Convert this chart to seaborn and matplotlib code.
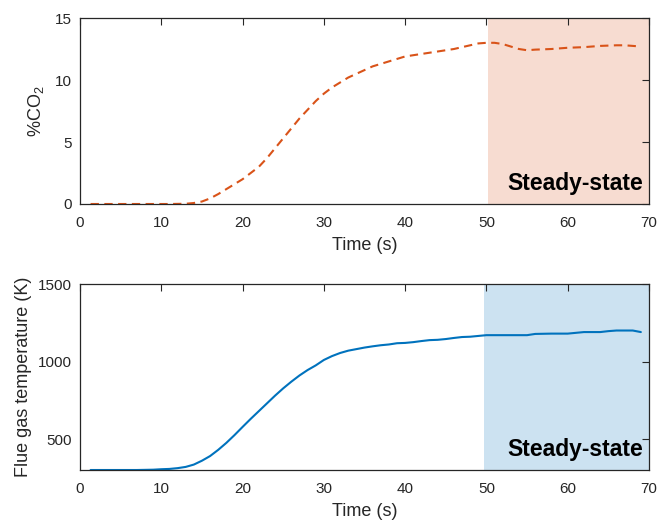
import matplotlib
matplotlib.use("Agg")
import matplotlib.pyplot as plt
import seaborn as sns
import pandas as pd

# CO2 concentration during start-up (%)
time_co2 = [1.3, 3, 5, 7, 9, 11, 13, 14, 15, 16, 17, 18, 19, 20, 21, 22, 23, 24, 25,
            26, 27, 28, 29, 30, 31, 32, 33, 34, 35, 36, 37, 38, 39, 40, 42, 44, 46,
            48, 49, 50, 51, 52, 53, 54, 55, 56, 58, 60, 62, 64, 66, 67, 68, 69]
co2 = [0, 0, 0, 0, 0, 0, 0.02, 0.08, 0.2, 0.45, 0.8, 1.2, 1.6, 2.0, 2.5, 3.0, 3.7, 4.5, 5.3,
       6.1, 6.9, 7.6, 8.3, 8.9, 9.4, 9.8, 10.2, 10.5, 10.8, 11.1, 11.3, 11.5, 11.7, 11.9, 12.1, 12.3, 12.5,
       12.8, 12.95, 13.0, 13.0, 12.9, 12.7, 12.5, 12.4, 12.45, 12.5, 12.6, 12.65, 12.75, 12.8, 12.8, 12.75, 12.7]

# Flue gas temperature (K)
time_temp = [1.3, 3, 5, 7, 9, 10, 11, 12, 13, 14, 15, 16, 17, 18, 19, 20, 21, 22, 23, 24,
             25, 26, 27, 28, 29, 30, 31, 32, 33, 34, 35, 36, 37, 38, 39, 40, 41, 42, 43, 44,
             45, 46, 47, 48, 49, 50, 52, 54, 55, 56, 58, 60, 61, 62, 64, 65, 66, 67, 68, 69]
temp = [300, 300, 300, 300, 302, 305, 307, 312, 320, 335, 360, 390, 430, 475, 525, 578, 630, 680, 730, 780,
        827, 870, 910, 945, 975, 1010, 1035, 1055, 1070, 1080, 1090, 1098, 1105, 1110, 1118, 1120, 1125, 1132, 1138, 1140,
        1145, 1152, 1158, 1160, 1165, 1170, 1170, 1170, 1170, 1178, 1180, 1180, 1185, 1190, 1190, 1196, 1200, 1200, 1200, 1190]

steady_start_co2 = 50.2
steady_start_temp = 49.7
x_ticks = [0, 10, 20, 30, 40, 50, 60, 70]

orange = "#D95319"
blue = "#0072BD"

sns.set_style("white")
plt.rcParams["font.family"] = ["Liberation Sans", "DejaVu Sans"]
plt.rcParams["mathtext.fontset"] = "custom"
plt.rcParams["mathtext.rm"] = "Liberation Sans"
plt.rcParams["mathtext.it"] = "Liberation Sans"

fig = plt.figure(figsize=(6.57, 5.22), dpi=100)
ax1 = fig.add_axes([0.1218, 0.6092, 0.8660, 0.3563])
ax2 = fig.add_axes([0.1218, 0.0996, 0.8660, 0.3563])

df_co2 = pd.DataFrame({"Time": time_co2, "CO2": co2})
df_temp = pd.DataFrame({"Time": time_temp, "Temp": temp})

ax1.axvspan(steady_start_co2, 70, color=orange, alpha=0.2, lw=0, zorder=0)
sns.lineplot(data=df_co2, x="Time", y="CO2", ax=ax1, color=orange, lw=1.5,
             linestyle=(0, (4, 2.6)))
ax2.axvspan(steady_start_temp, 70, color=blue, alpha=0.2, lw=0, zorder=0)
sns.lineplot(data=df_temp, x="Time", y="Temp", ax=ax2, color=blue, lw=1.5)

ax1.set_xlim(0, 70)
ax1.set_ylim(0, 15)
ax1.set_yticks([0, 5, 10, 15])
ax1.set_ylabel(r"%CO$_2$", fontsize=13, color="#262626", labelpad=6)
ax2.set_xlim(0, 70)
ax2.set_ylim(300, 1500)
ax2.set_yticks([500, 1000, 1500])
ax2.set_ylabel("Flue gas temperature (K)", fontsize=13, color="#262626", labelpad=4)

for ax in (ax1, ax2):
    ax.set_xticks(x_ticks)
    ax.set_xlabel("Time (s)", fontsize=13, color="#262626", labelpad=5)
    ax.tick_params(axis="x", pad=8.5)
    ax.tick_params(axis="y", pad=6)
    ax.tick_params(direction="in", length=5, width=0.8, top=True, right=True,
                   labelsize=11, colors="#262626")
    for s in ax.spines.values():
        s.set_color("#262626")
        s.set_linewidth(0.9)
        s.set_visible(True)
    ax.text(0.99, 0.05, "Steady-state", transform=ax.transAxes, ha="right", va="bottom",
            fontsize=16.5, fontweight="bold", color="black")

fig.savefig("out.png", dpi=100)
